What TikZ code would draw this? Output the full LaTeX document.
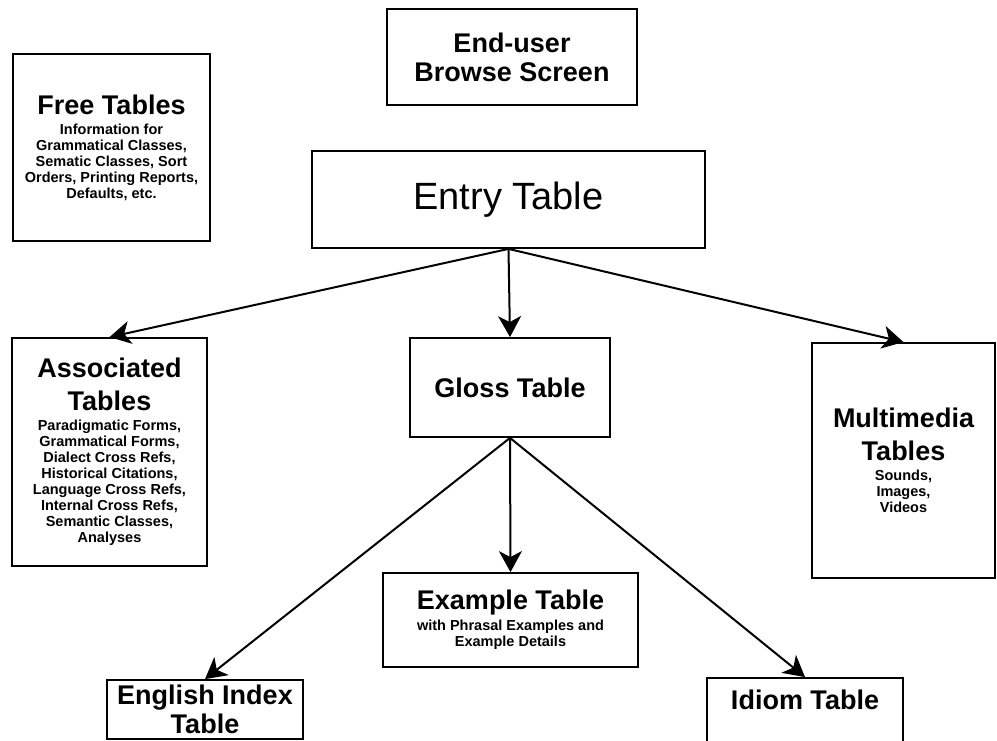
\documentclass[tikz,border=0pt]{standalone}
\usepackage{fontspec}
\setmainfont{Liberation Sans}
\usepackage{xcolor}
\usepackage{tikz}
\usetikzlibrary{arrows.meta}
\colorlet{rulecolor}{black}
\colorlet{linkcolor}{black}
\colorlet{textcolor}{black}
\newcommand{\headsize}{\fontsize{27}{29}\selectfont\bfseries}
\newcommand{\notesize}{\fontsize{14.5}{16}\selectfont\bfseries}
\tikzset{
	table/.style={
		,rectangle
		,draw			= rulecolor
		,line width		= 1.8pt
		,inner sep		= 0pt
		,align			= center
		,text			= textcolor
		,font			= \notesize
	}
	,head/.style	 = {font = \headsize}
	,link/.style	 = {linkcolor, line width = 2pt, -{Stealth[length=21pt, width=23pt, inset=6pt]}}
}

\begin{document}
\begin{tikzpicture}[x=1pt, y=-1pt]
	\useasboundingbox (0,0) rectangle (997,741);

	% the tables
	\node[table, head, minimum width=250pt, minimum height=96pt] (browse) at (512,57)
		{End-user\\ Browse Screen};
	\node[table, minimum width=197pt, minimum height=187pt] (free) at (111.5,147.5)
		{{\headsize Free Tables}\\[4pt] Information for\\ Grammatical Classes,\\ Sematic Classes, Sort\\ Orders, Printing Reports,\\ Defaults, etc.};
	\node[table, minimum width=393pt, minimum height=97pt, font=\fontsize{38}{40}\selectfont] (entry) at (508.5,199.5)
		{Entry Table};
	\node[table, minimum width=195pt, minimum height=228pt] (assoc) at (109.5,452)
		{{\headsize Associated}\\[12pt]{\headsize Tables}\\[4pt] Paradigmatic Forms,\\ Grammatical Forms,\\ Dialect Cross Refs,\\ Historical Citations,\\ Language Cross Refs,\\ Internal Cross Refs,\\ Semantic Classes,\\ Analyses};
	\node[table, head, minimum width=200pt, minimum height=99pt] (gloss) at (510,387.5)
		{Gloss Table};
	\node[table, minimum width=183pt, minimum height=235pt] (multi) at (903.5,460.5)
		{{\headsize Multimedia}\\[12pt]{\headsize Tables}\\[4pt] Sounds,\\ Images,\\ Videos};
	\node[table, minimum width=255pt, minimum height=94pt] (example) at (510.5,620)
		{{\headsize Example Table}\\[4pt] with Phrasal Examples and\\ Example Details};
	\node[table, head, minimum width=196pt, minimum height=59pt] (english) at (205,709.5)
		{English Index\\ Table};
	\node[table, head, minimum width=196pt, minimum height=92pt] (idiom) at (805,724)
		{\raisebox{48pt}{Idiom Table}};

	% the arrows
	\draw[link] (entry.south) -- (assoc.north);
	\draw[link] (entry.south) -- (gloss.north);
	\draw[link] (entry.south) -- (multi.north);

	\draw[link] (gloss.south) -- (english.north);
	\draw[link] (gloss.south) -- (example.north);
	\draw[link] (gloss.south) -- (idiom.north);
\end{tikzpicture}
\end{document}
